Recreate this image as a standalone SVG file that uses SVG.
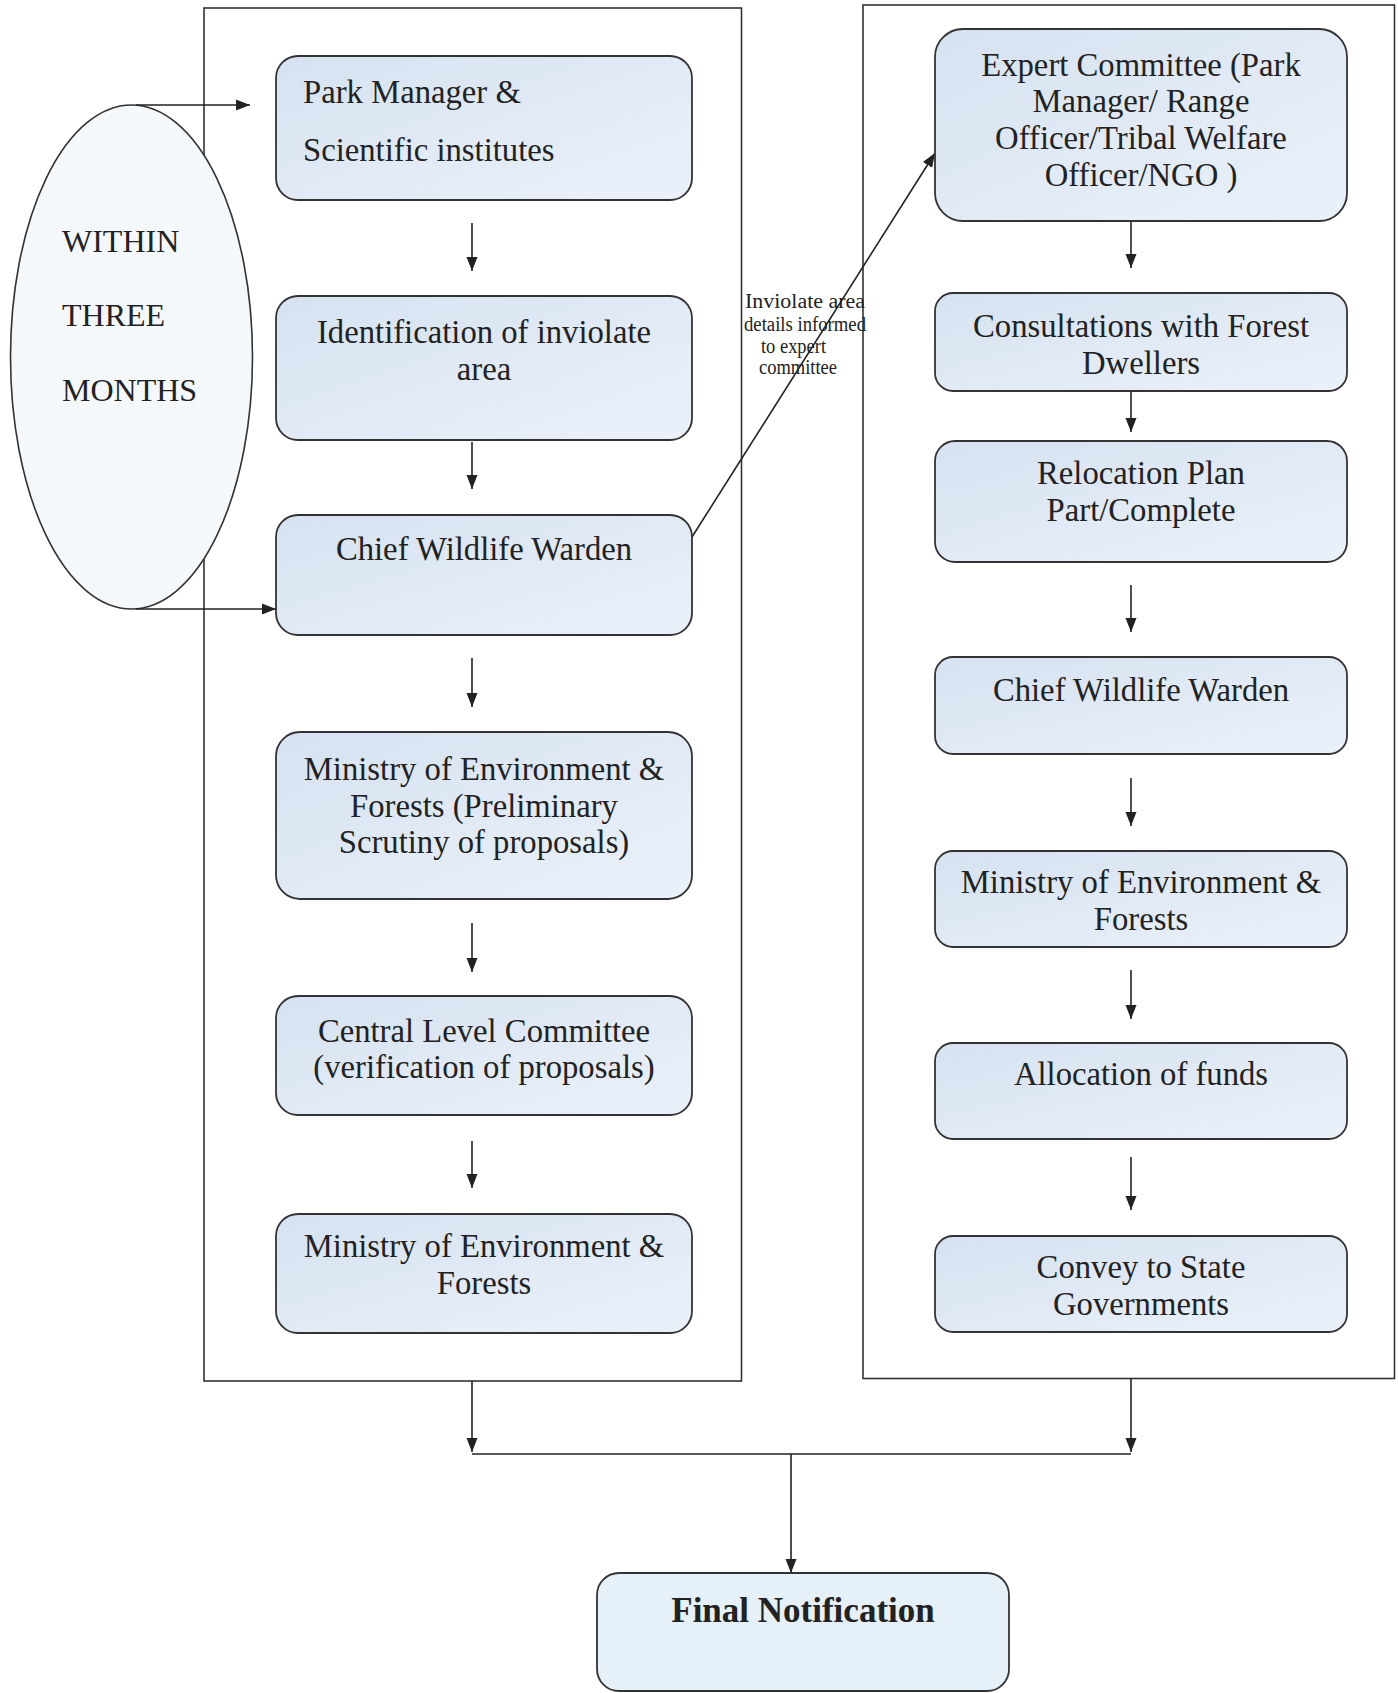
<svg xmlns="http://www.w3.org/2000/svg" width="1398" height="1693" viewBox="0 0 1398 1693">
<style>
.frame{fill:none;stroke:#333;stroke-width:1.6}
.node{fill:url(#nodeGrad);stroke:#333;stroke-width:1.8}
.final{fill:#e6f0f8;stroke:#333;stroke-width:1.8}
.t{font-family:"Liberation Serif","Times New Roman",serif;font-size:32.7px;fill:#222}
.e{font-size:32px}
.c{text-anchor:middle}
.small{font-family:"Liberation Serif","Times New Roman",serif;font-size:20px;fill:#222}
.b{font-weight:bold;font-size:35px}
.conn{fill:none;stroke:#222;stroke-width:1.6}
</style>
<defs>
<linearGradient id="nodeGrad" x1="0" y1="0" x2="1" y2="1">
<stop offset="0" stop-color="#d6e2f1"/>
<stop offset="1" stop-color="#ebf1f9"/>
</linearGradient>
<marker id="arr" markerUnits="userSpaceOnUse" markerWidth="16" markerHeight="14" refX="14" refY="6" orient="auto">
<path d="M0,0.5 L14,6 L0,11.5 z" fill="#222"/>
</marker>
</defs>
<rect width="1398" height="1693" fill="#fff"/>
<g id="containers">
<rect id="left-frame" class="frame" x="204" y="8" width="537.5" height="1373"/>
<rect id="right-frame" class="frame" x="863" y="5" width="531.5" height="1373.5"/>
</g>
<g id="connectors">
<line class="conn" x1="472" y1="223" x2="472" y2="271" marker-end="url(#arr)"/>
<line class="conn" x1="472" y1="442" x2="472" y2="489" marker-end="url(#arr)"/>
<line class="conn" x1="472" y1="658" x2="472" y2="707" marker-end="url(#arr)"/>
<line class="conn" x1="472" y1="923" x2="472" y2="972" marker-end="url(#arr)"/>
<line class="conn" x1="472" y1="1141" x2="472" y2="1188" marker-end="url(#arr)"/>
<line class="conn" x1="1131" y1="222" x2="1131" y2="268" marker-end="url(#arr)"/>
<line class="conn" x1="1131" y1="384" x2="1131" y2="432" marker-end="url(#arr)"/>
<line class="conn" x1="1131" y1="585" x2="1131" y2="632" marker-end="url(#arr)"/>
<line class="conn" x1="1131" y1="778" x2="1131" y2="826" marker-end="url(#arr)"/>
<line class="conn" x1="1131" y1="970" x2="1131" y2="1019" marker-end="url(#arr)"/>
<line class="conn" x1="1131" y1="1157" x2="1131" y2="1210" marker-end="url(#arr)"/>
<line class="conn" x1="692" y1="537" x2="935" y2="153" marker-end="url(#arr)"/>
<line class="conn" x1="472" y1="1381" x2="472" y2="1452" marker-end="url(#arr)"/>
<line class="conn" x1="1131" y1="1378" x2="1131" y2="1452" marker-end="url(#arr)"/>
<line class="conn" x1="472" y1="1454" x2="1131" y2="1454"/>
<line class="conn" x1="791" y1="1454" x2="791" y2="1573" marker-end="url(#arr)"/>
</g>
<g id="ellipse-within-three-months">
<ellipse cx="131.5" cy="357" rx="121" ry="252" fill="#f5f8fb" stroke="#333" stroke-width="1.6"/>
<text class="t e" x="62" y="252">WITHIN</text>
<text class="t e" x="62" y="326">THREE</text>
<text class="t e" x="62" y="401">MONTHS</text>
</g>
<g id="ellipse-arrows">
<line class="conn" x1="136" y1="105" x2="250" y2="105" marker-end="url(#arr)"/>
<line class="conn" x1="136" y1="609" x2="276" y2="609" marker-end="url(#arr)"/>
</g>
<g id="label-inviolate">
<text class="small" x="745" y="308" textLength="120" lengthAdjust="spacingAndGlyphs">Inviolate area</text>
<text class="small" x="744" y="331" textLength="122" lengthAdjust="spacingAndGlyphs">details informed</text>
<text class="small" x="761" y="353" textLength="65" lengthAdjust="spacingAndGlyphs">to expert</text>
<text class="small" x="759" y="374" textLength="78" lengthAdjust="spacingAndGlyphs">committee</text>
</g>
<g id="n-park-manager">
<rect class="node" x="276" y="56" width="416" height="144" rx="22"/>
<text class="t" x="303" y="103">Park Manager &amp;</text>
<text class="t" x="303" y="161">Scientific institutes</text>
</g>
<g id="n-identification">
<rect class="node" x="276" y="296" width="416" height="144" rx="22"/>
<text class="t c" x="484" y="343">Identification of inviolate</text>
<text class="t c" x="484" y="380">area</text>
</g>
<g id="n-cww-left">
<rect class="node" x="276" y="515" width="416" height="120" rx="22"/>
<text class="t c" x="484" y="560">Chief Wildlife Warden</text>
</g>
<g id="n-moef-prelim">
<rect class="node" x="276" y="732" width="416" height="167" rx="24"/>
<text class="t c" x="484" y="780">Ministry of Environment &amp;</text>
<text class="t c" x="484" y="817">Forests (Preliminary</text>
<text class="t c" x="484" y="853">Scrutiny of proposals)</text>
</g>
<g id="n-central-level">
<rect class="node" x="276" y="996" width="416" height="119" rx="22"/>
<text class="t c" x="484" y="1042">Central Level Committee</text>
<text class="t c" x="484" y="1078">(verification of proposals)</text>
</g>
<g id="n-moef-left">
<rect class="node" x="276" y="1214" width="416" height="119" rx="22"/>
<text class="t c" x="484" y="1257">Ministry of Environment &amp;</text>
<text class="t c" x="484" y="1294">Forests</text>
</g>
<g id="n-expert-committee">
<rect class="node" x="935" y="29" width="412" height="192" rx="28"/>
<text class="t c" x="1141" y="76">Expert Committee (Park</text>
<text class="t c" x="1141" y="112">Manager/ Range</text>
<text class="t c" x="1141" y="149">Officer/Tribal Welfare</text>
<text class="t c" x="1141" y="186">Officer/NGO )</text>
</g>
<g id="n-consultations">
<rect class="node" x="935" y="293" width="412" height="98" rx="18"/>
<text class="t c" x="1141" y="337">Consultations with Forest</text>
<text class="t c" x="1141" y="374">Dwellers</text>
</g>
<g id="n-relocation">
<rect class="node" x="935" y="441" width="412" height="121" rx="20"/>
<text class="t c" x="1141" y="484">Relocation Plan</text>
<text class="t c" x="1141" y="521">Part/Complete</text>
</g>
<g id="n-cww-right">
<rect class="node" x="935" y="657" width="412" height="97" rx="18"/>
<text class="t c" x="1141" y="701">Chief Wildlife Warden</text>
</g>
<g id="n-moef-right">
<rect class="node" x="935" y="851" width="412" height="96" rx="18"/>
<text class="t c" x="1141" y="893">Ministry of Environment &amp;</text>
<text class="t c" x="1141" y="930">Forests</text>
</g>
<g id="n-allocation">
<rect class="node" x="935" y="1043" width="412" height="96" rx="18"/>
<text class="t c" x="1141" y="1085">Allocation of funds</text>
</g>
<g id="n-convey">
<rect class="node" x="935" y="1236" width="412" height="96" rx="18"/>
<text class="t c" x="1141" y="1278">Convey to State</text>
<text class="t c" x="1141" y="1315">Governments</text>
</g>
<g id="n-final-notification">
<rect class="final" x="597" y="1573" width="412" height="118" rx="22"/>
<text class="t c b" x="803" y="1622">Final Notification</text>
</g>
</svg>
